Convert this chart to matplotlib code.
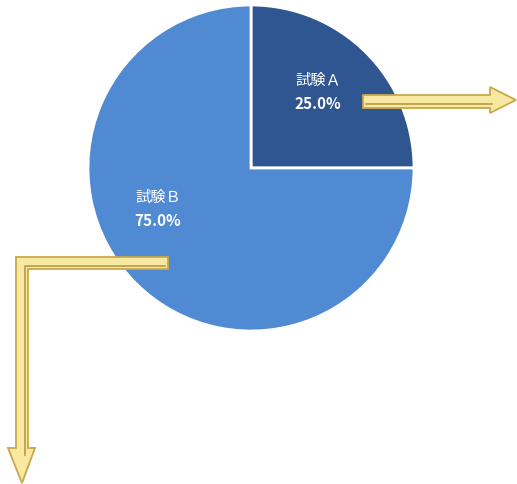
import matplotlib.pyplot as plt
from matplotlib.patches import Polygon

plt.rcParams['font.family'] = ['Noto Sans CJK JP', 'DejaVu Sans']

labels = ['試験Ａ', '試験Ｂ']
values = [25.0, 75.0]
colors = ['#2F5690', '#4F8AD3']

W, H = 517, 484
fig = plt.figure(figsize=(W / 100, H / 100), dpi=100)
ax = fig.add_axes([0, 0, 1, 1])

def py(y):
    # pixel row -> data y
    return H - y

cx, cy, r = 251, py(168), 163
wedges, _ = ax.pie(values, colors=colors, startangle=90, counterclock=False,
                   center=(cx, cy), radius=r,
                   wedgeprops=dict(edgecolor='white', linewidth=2))
ax.set_aspect('equal')
ax.set_xlim(0, W)
ax.set_ylim(0, H)
ax.axis('off')

# labels inside the wedges
label_pos = [(318, 80), (158, 197)]
for lab, v, (lx, ly) in zip(labels, values, label_pos):
    ax.text(lx, py(ly), lab, color='white', fontsize=11, ha='center', va='center')
    ax.text(lx, py(ly + 24), f'{v:.1f}%', color='white', fontsize=11,
            fontweight='bold', ha='center', va='center')

# yellow block arrows
fill, edge, inner = '#F8E9A2', '#C9A84A', '#B89A45'

def block_arrow(pts, inner_pts):
    pts = [(x, py(y)) for x, y in pts]
    ax.add_patch(Polygon(pts, closed=True, facecolor=fill, edgecolor=edge,
                         linewidth=1.3, zorder=5))
    xs = [x for x, y in inner_pts]
    ys = [py(y) for x, y in inner_pts]
    ax.plot(xs, ys, color=inner, lw=1.2, zorder=6)

# right arrow from slice A
block_arrow([(363, 95), (490, 95), (490, 87), (516, 100), (490, 113),
             (490, 108), (363, 108)],
            [(366, 104), (492, 104)])
# L-shaped arrow from slice B
block_arrow([(168, 257), (168, 269), (28, 269), (28, 448), (35, 448),
             (22, 483), (8, 448), (16, 448), (16, 257)],
            [(165, 266), (25, 266), (25, 455)])

fig.savefig('out.png', dpi=100)
